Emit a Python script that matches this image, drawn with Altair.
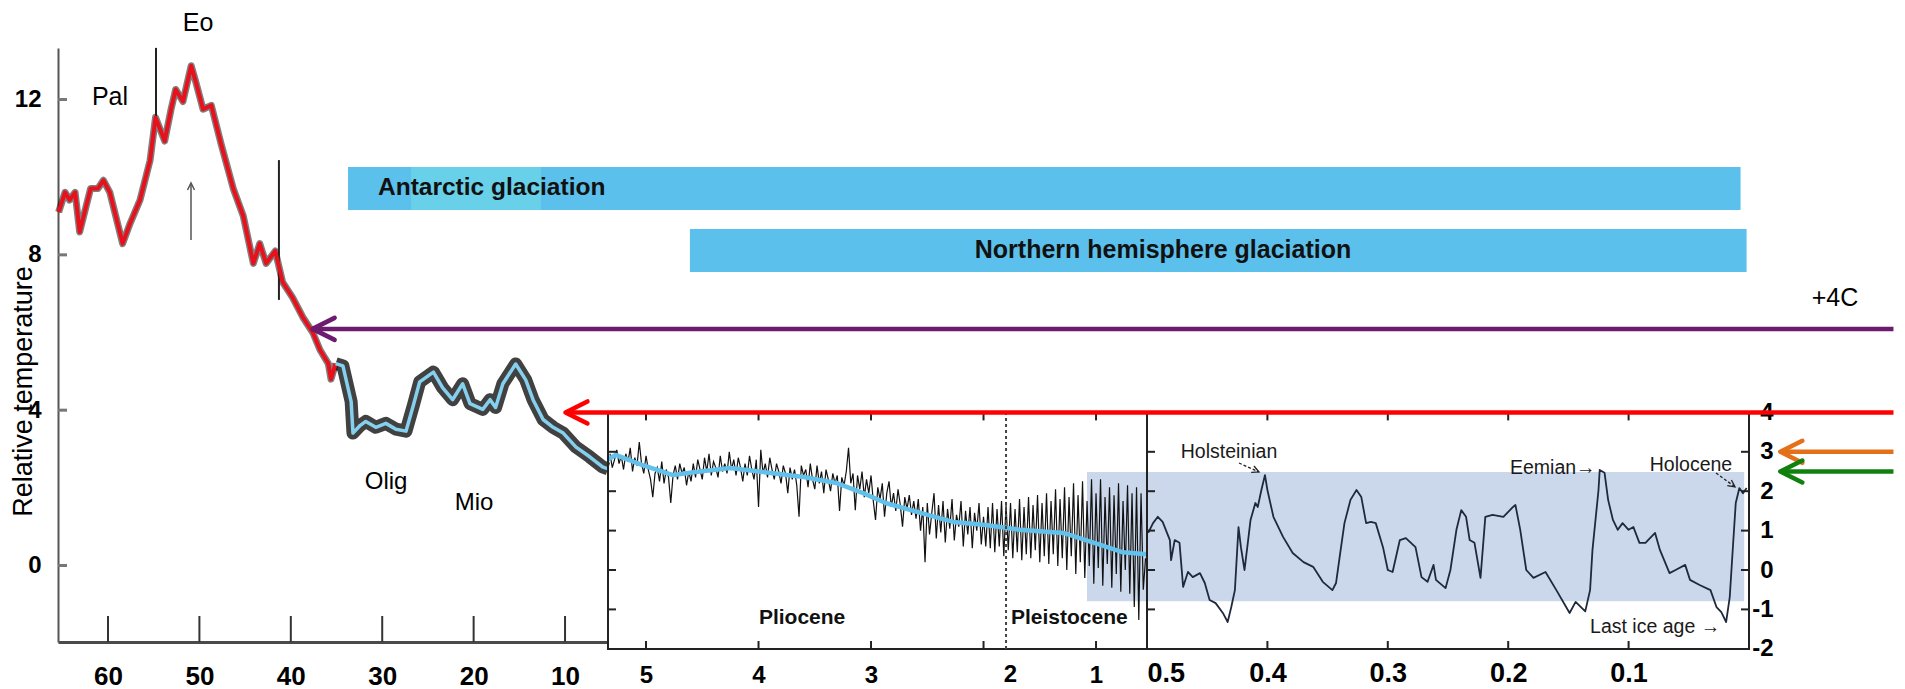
import altair as alt
import pandas as pd

TXT = "Liberation Sans, Arial, Helvetica, sans-serif"
NARROW = "Liberation Sans Narrow, Arial Narrow, Liberation Sans, Arial, sans-serif"

# ---------------- data: left panel (65-5 Ma) ----------------
LEFT_RED_AGE = [65.4, 64.7, 64.2, 63.6, 63.1, 61.9, 61.1, 60.5, 59.8, 58.4, 57.6, 56.5, 55.4, 54.8,
                53.8, 53.1, 52.6, 51.8, 50.9, 50.4, 49.6, 48.7, 47.6, 46.3, 45.2, 44.1, 43.4, 42.7,
                41.7, 40.9, 39.8, 38.7, 37.6, 36.8, 35.9, 35.6, 35.1]
LEFT_RED_TEMP = [9.10, 9.61, 9.41, 9.61, 8.59, 9.71, 9.71, 9.92, 9.61, 8.29, 8.80, 9.41, 10.43, 11.54,
                 10.93, 11.75, 12.26, 11.95, 12.87, 12.46, 11.75, 11.85, 10.83, 9.71, 9.00, 7.78, 8.29, 7.78,
                 8.10, 7.30, 6.90, 6.40, 6.00, 5.55, 5.20, 4.80, 5.20]
LEFT_BLUE_AGE = [35.1, 34.3, 33.4, 33.2, 32.4, 31.8, 30.7, 29.6, 28.5, 27.4, 26.6, 25.9, 24.4, 23.4,
                 22.3, 21.2, 20.4, 19.0, 18.2, 17.6, 16.8, 15.4, 14.3, 13.5, 12.4, 11.3, 10.2, 8.8,
                 7.3, 5.9, 5.3]
LEFT_BLUE_TEMP = [5.20, 5.14, 4.22, 3.41, 3.61, 3.71, 3.56, 3.66, 3.51, 3.46, 4.12, 4.73, 4.98, 4.58,
                  4.27, 4.68, 4.17, 4.02, 4.27, 4.07, 4.68, 5.19, 4.78, 4.27, 3.76, 3.56, 3.41, 3.05,
                  2.80, 2.54, 2.49]
SPIKE_AGE = [54.75, 41.3]
SPIKE_LO = [11.55, 6.84]
SPIKE_HI = [13.33, 10.44]

# ---------------- data: middle panel (5-0.5 Ma), read in five stretches ----------------
MID_AGE_A = [5.32, 5.30, 5.28, 5.26, 5.24, 5.22, 5.20, 5.18, 5.16, 5.14,
             5.12, 5.10, 5.08, 5.06, 5.04, 5.02, 5.00, 4.98, 4.96, 4.94,
             4.92, 4.90, 4.88, 4.86, 4.84, 4.82, 4.80, 4.78, 4.76, 4.74,
             4.72, 4.70, 4.68, 4.66, 4.64, 4.62, 4.60]
MID_TEMP_A = [2.95, 2.60, 2.80, 3.05, 2.70, 2.90, 2.55, 2.95, 2.75, 3.10,
              2.50, 2.85, 2.65, 3.25, 2.70, 2.45, 2.90, 2.55, 2.30, 1.85,
              2.45, 2.60, 2.25, 2.75, 2.20, 2.55, 2.35, 1.70, 2.40, 2.65,
              2.30, 2.70, 2.45, 2.60, 2.15, 2.50, 2.25]
MID_AGE_B = [4.58, 4.56, 4.54, 4.52, 4.50, 4.48, 4.46, 4.44, 4.42, 4.40,
             4.38, 4.36, 4.34, 4.32, 4.30, 4.28, 4.26, 4.24, 4.22, 4.20,
             4.18, 4.16, 4.14, 4.12, 4.10, 4.08, 4.06, 4.04, 4.02, 4.00,
             3.98, 3.96, 3.94, 3.92, 3.90, 3.88, 3.86, 3.84, 3.82, 3.80,
             3.78, 3.76, 3.74, 3.72, 3.70, 3.68, 3.66, 3.64, 3.62, 3.60]
MID_TEMP_B = [2.70, 2.35, 2.80, 2.55, 2.30, 2.85, 2.50, 2.95, 2.40, 2.75,
              2.60, 2.35, 2.90, 2.50, 2.70, 2.45, 3.00, 2.55, 2.80, 2.40,
              2.85, 2.60, 2.25, 2.70, 2.40, 2.90, 2.55, 2.30, 2.80, 1.60,
              3.05, 2.45, 2.70, 2.35, 2.85, 2.55, 2.30, 2.70, 2.50, 2.20,
              2.65, 2.45, 1.95, 2.60, 2.30, 2.55, 2.15, 1.35, 2.65, 2.40]
MID_AGE_C = [3.58, 3.56, 3.54, 3.52, 3.50, 3.48, 3.46, 3.44, 3.42, 3.40,
             3.38, 3.36, 3.34, 3.32, 3.30, 3.28, 3.26, 3.24, 3.22, 3.20,
             3.18, 3.16, 3.14, 3.12, 3.10, 3.08, 3.06, 3.04, 3.02, 3.00,
             2.98, 2.96, 2.94, 2.92, 2.90, 2.88, 2.86, 2.84, 2.82, 2.80,
             2.78, 2.76, 2.74, 2.72, 2.70, 2.68, 2.66, 2.64, 2.62, 2.60]
MID_TEMP_C = [2.55, 2.10, 2.70, 2.30, 2.05, 2.65, 2.20, 2.50, 1.95, 2.55,
              2.30, 2.00, 2.45, 2.20, 2.40, 1.50, 2.35, 2.15, 2.50, 3.10,
              2.20, 2.45, 1.52, 2.40, 2.05, 2.50, 1.85, 2.30, 1.95, 2.40,
              1.75, 1.27, 2.10, 1.80, 2.20, 1.35, 1.95, 2.25, 1.60, 1.95,
              1.50, 2.05, 1.65, 1.10, 1.85, 1.55, 1.90, 1.40, 1.75, 1.30]
MID_AGE_D = [2.58, 2.56, 2.54, 2.52, 2.50, 2.48, 2.46, 2.44, 2.42, 2.40,
             2.38, 2.36, 2.34, 2.32, 2.30, 2.28, 2.26, 2.24, 2.22, 2.20,
             2.18, 2.16, 2.14, 2.12, 2.10, 2.08, 2.06, 2.04, 2.02, 2.00]
MID_TEMP_D = [1.80, 1.00, 1.60, 0.20, 1.70, 0.90, 1.45, 1.95, 0.80, 1.65,
              0.95, 1.75, 0.70, 1.55, 1.05, 1.80, 0.75, 1.40, 1.10, 1.75,
              0.60, 1.50, 0.90, 1.60, 0.55, 1.45, 1.00, 1.70, 0.65, 1.35]
MID_AGE_E = [1.98, 1.96, 1.94, 1.92, 1.90, 1.88, 1.86, 1.84, 1.82, 1.80,
             1.78, 1.76, 1.74, 1.72, 1.70, 1.68, 1.66, 1.64, 1.62, 1.60,
             1.58, 1.56, 1.54, 1.52, 1.50, 1.48, 1.46, 1.44, 1.42, 1.40,
             1.38, 1.36, 1.34, 1.32, 1.30, 1.28, 1.26, 1.24, 1.22, 1.20,
             1.18, 1.16, 1.14, 1.12, 1.10, 1.08, 1.06, 1.04, 1.02, 1.00,
             0.98, 0.96, 0.94, 0.92, 0.90, 0.88, 0.86, 0.84, 0.82, 0.80,
             0.78, 0.76, 0.74, 0.72, 0.70, 0.68, 0.66, 0.64, 0.62, 0.60,
             0.58, 0.56]
MID_TEMP_E = [0.60, 1.60, 0.55, 1.70, 0.45, 1.55, 0.60, 1.75, 0.35, 1.65,
              0.50, 1.70, 0.30, 1.55, 0.45, 1.80, 0.25, 1.60, 0.40, 1.85,
              0.30, 1.65, 0.50, 1.90, 0.20, 1.70, 0.35, 1.95, 0.15, 1.75,
              0.40, 2.05, 0.10, 1.80, 0.30, 2.10, 0.00, 1.85, 0.35, 2.20,
              -0.10, 1.90, 0.20, 2.25, -0.20, 1.75, 0.10, 2.30, -0.35, 1.95,
              0.05, 2.30, -0.40, 1.85, 0.15, 2.10, -0.45, 1.90, -0.10, 2.20,
              -0.55, 1.75, 0.00, 2.15, -0.60, 1.95, -0.94, 2.10, -1.27, 1.95,
              -0.50, 0.30]
MID_AGE = MID_AGE_A + MID_AGE_B + MID_AGE_C + MID_AGE_D + MID_AGE_E
MID_TEMP = MID_TEMP_A + MID_TEMP_B + MID_TEMP_C + MID_TEMP_D + MID_TEMP_E
MID_SMOOTH_AGE = [5.34, 5.27, 5.03, 4.76, 4.56, 4.25, 3.96, 3.60, 3.31, 3.07, 2.87, 2.56, 2.27, 1.98, 1.68, 1.29, 1.18,
                  0.94, 0.76, 0.55]
MID_SMOOTH = [2.80, 2.92, 2.66, 2.41, 2.49, 2.59, 2.49, 2.36, 2.21, 1.95, 1.70, 1.45, 1.22, 1.14, 1.02, 0.94, 0.84,
              0.62, 0.45, 0.40]

# ---------------- data: right panel (0.5-0 Ma) ----------------
RIGHT_AGE = [0.499, 0.495, 0.491, 0.487, 0.481, 0.480, 0.477, 0.473, 0.470, 0.466,
             0.462, 0.456, 0.452, 0.448, 0.443, 0.437, 0.433, 0.430, 0.427, 0.424,
             0.422, 0.419, 0.416, 0.414, 0.410, 0.408, 0.405, 0.402, 0.400, 0.395,
             0.387, 0.379, 0.370, 0.362, 0.354, 0.346, 0.343, 0.340, 0.336, 0.331,
             0.326, 0.322, 0.318, 0.314, 0.310, 0.304, 0.300, 0.296, 0.290, 0.285,
             0.277, 0.272, 0.267, 0.262, 0.260, 0.252, 0.248, 0.243, 0.239, 0.235,
             0.232, 0.228, 0.223, 0.219, 0.213, 0.204, 0.196, 0.194, 0.190, 0.185,
             0.179, 0.169, 0.160, 0.149, 0.144, 0.136, 0.132, 0.130, 0.125, 0.124,
             0.120, 0.117, 0.113, 0.109, 0.105, 0.100, 0.096, 0.091, 0.086, 0.078,
             0.074, 0.066, 0.061, 0.053, 0.049, 0.041, 0.032, 0.027, 0.023, 0.019,
             0.016, 0.013, 0.011, 0.008, 0.005, 0.002]
RIGHT_TEMP = [0.94, 1.19, 1.35, 1.22, 0.76, 0.25, 0.76, 0.69, -0.43, -0.05,
              -0.18, -0.08, -0.33, -0.76, -0.84, -1.09, -1.32, -0.94, -0.51, 1.09,
              0.58, 0.00, 0.76, 1.27, 1.70, 1.60, 2.03, 2.41, 2.03, 1.35,
              0.84, 0.43, 0.20, 0.08, -0.30, -0.51, -0.33, 0.33, 1.19, 1.78,
              2.03, 1.85, 1.19, 1.22, 1.19, 0.58, 0.00, -0.05, 0.76, 0.81,
              0.58, -0.18, -0.30, 0.13, -0.25, -0.46, 0.00, 1.02, 1.52, 1.35,
              0.76, 0.69, -0.20, 1.35, 1.40, 1.35, 1.60, 1.65, 1.02, 0.00,
              -0.20, -0.05, -0.51, -1.09, -0.81, -1.05, -0.51, 0.51, 2.03, 2.54,
              2.47, 1.78, 1.27, 1.02, 1.19, 1.02, 1.09, 0.69, 0.69, 0.94,
              0.51, -0.08, 0.00, 0.13, -0.25, -0.38, -0.51, -0.94, -1.07, -1.32,
              -0.69, 0.76, 1.70, 2.08, 1.95, 2.08]

# ---------------- ticks ----------------
LEFT_X_TICKS = [60, 50, 40, 30, 20, 10]
LEFT_Y_TICKS = [0, 4, 8, 12]
MID_X_TICKS = [5, 4, 3, 2, 1]
MID_MOVED_LABEL = ("2", 1.76)   # the "2" label sits under the Plio/Pleistocene boundary
RIGHT_X_TICKS = [0.5, 0.4, 0.3, 0.2, 0.1]
RIGHT_Y_TICKS = [-2, -1, 0, 1, 2, 3, 4]
INNER_Y_TICKS = [3, 2, 1, 0, -1]
INNER_X_TICKS_R = [0.4, 0.3, 0.2, 0.1]

# ---------------- annotations ----------------
ANTARCTIC_START = 33.74      # Ma
NORTHERN_START = 4.61        # Ma
ANTARCTIC_END = 0.007
NORTHERN_END = 0.002
PATCH = (26.85, 12.63)       # lighter section of the Antarctic bar
ANT_BAND_L = (9.155, 10.26)  # bar extent in left-panel units
ANT_BAND_R = (9.137, 10.228)  # bar extent in right-panel units
NH_BAND_R = (7.563, 8.655)
SHADE_AGE = (1.08, 0.004)
SHADE_TEMP = (-0.79, 2.49)
PLEIST_BOUNDARY = 1.80

ARROW_LEVEL = [6.12, 4.0, 3.0, 2.5]
ARROW_TIP = [1.193, 0.983, -0.026, -0.026]
ARROW_END = -0.12
ARROW_COLOR = ["#6d1b6e", "#ff0000", "#e5701a", "#10800f"]

# ---------------- panel geometry ----------------
LX = [5.30, 65.47]
LY = [-1.970, 13.327]
MX = [0.547, 5.338]
RX = [0.0, 0.5]
RY = [-2.005, 13.249]
FRAME_TOP = 4.0
MID_LABEL_Y = -2.66
LEFT_W, MID_W, RIGHT_W = 550, 539, 602
LEFT_H, RM_H = 594, 601

CHEVRON_LEFT = "M 2 -1 L 0 0 L 2 1"
CHEVRON_UP = "M -1 2 L 0 0 L 1 2"

# ---------------- axes ----------------
lx_axis = alt.Axis(values=LEFT_X_TICKS, title=None, grid=False, ticks=False, tickSize=0,
                   domainColor="#4a4a4a", domainWidth=3, labelFont=NARROW, labelFontSize=26,
                   labelFontWeight="bold", labelColor="black", labelPadding=34, labelBaseline="middle")
ly_axis = alt.Axis(values=LEFT_Y_TICKS, title="Relative temperature", grid=False, ticks=False, tickSize=0,
                   domainColor="#555555", domainWidth=2, labelFont=TXT, labelFontSize=24,
                   labelFontWeight="bold", labelColor="black", labelPadding=17, labelBaseline="middle",
                   titleFont=TXT, titleFontSize=27, titleFontWeight="normal", titleColor="black",
                   titleAngle=270, titleAlign="center", titleBaseline="alphabetic", titleX=-27, titleY=343)
mx_axis = alt.Axis(values=MID_X_TICKS, title=None, grid=False, ticks=False, tickSize=0, domain=False,
                   labelFont=TXT, labelFontSize=24, labelFontWeight="bold", labelColor="black",
                   labelPadding=26, labelBaseline="middle",
                   labelExpr="datum.value == 2 ? '' : datum.label")
rx_axis = alt.Axis(values=RIGHT_X_TICKS, title=None, grid=False, ticks=False, tickSize=0, domain=False,
                   labelFont=NARROW, labelFontSize=27, labelFontWeight="bold", labelColor="black",
                   labelPadding=24, labelBaseline="middle", labelFlush=True)
ry_axis = alt.Axis(orient="right", values=RIGHT_Y_TICKS, title=None, grid=False, ticks=False, tickSize=0,
                   domain=False, labelFont=TXT, labelFontSize=24, labelFontWeight="bold", labelColor="black",
                   labelAlign="right", labelPadding=24, labelBaseline="middle", labelExpr="'' + datum.value")

# every layer of a panel carries the same axis definition so that they merge cleanly
PANELS = {
    "L": (LX, LY, lx_axis, ly_axis),
    "M": (MX, RY, mx_axis, None),
    "R": (RX, RY, rx_axis, ry_axis),
}


def ex(field, p):
    dom, _, ax, _ = PANELS[p]
    return alt.X(field, type="quantitative",
                 scale=alt.Scale(domain=dom, reverse=True, nice=False, zero=False), axis=ax)


def ey(field, p):
    _, dom, _, ax = PANELS[p]
    return alt.Y(field, type="quantitative",
                 scale=alt.Scale(domain=dom, nice=False, zero=False), axis=ax)


def rects(df, p, **kw):
    return alt.Chart(df).mark_rect(**kw).encode(
        x=ex("start", p), x2=alt.X2("end"), y=ey("lo", p), y2=alt.Y2("hi"))


def vticks(vals, base, length, p, color="#333", width=2):
    df = pd.DataFrame({"t": vals, "b": [base] * len(vals)})
    return alt.Chart(df).mark_rule(color=color, strokeWidth=width, y2Offset=length).encode(
        x=ex("t", p), y=ey("b", p), y2=alt.Y2("b"))


def hticks(vals, base, length, p, color="#333", width=2):
    df = pd.DataFrame({"t": vals, "b": [base] * len(vals)})
    return alt.Chart(df).mark_rule(color=color, strokeWidth=width, x2Offset=length).encode(
        y=ey("t", p), x=ex("b", p), x2=alt.X2("b"))


def texts(labels, xs, ys, p, **kw):
    df = pd.DataFrame({"label": labels, "x": xs, "y": ys})
    return alt.Chart(df).mark_text(**kw).encode(x=ex("x", p), y=ey("y", p), text="label:N")


def line(df, p, **kw):
    return alt.Chart(df).mark_line(**kw).encode(x=ex("age", p), y=ey("temp", p))


# ---------------- left panel ----------------
red_df = pd.DataFrame({"age": LEFT_RED_AGE, "temp": LEFT_RED_TEMP})
blue_df = pd.DataFrame({"age": LEFT_BLUE_AGE, "temp": LEFT_BLUE_TEMP})
spike_df = pd.DataFrame({"age": SPIKE_AGE, "lo": SPIKE_LO, "hi": SPIKE_HI})

l_bar = rects(pd.DataFrame({"start": [ANTARCTIC_START], "end": [LX[0]],
                            "lo": [ANT_BAND_L[0]], "hi": [ANT_BAND_L[1]]}), "L", color="#5bc0eb")
l_patch = rects(pd.DataFrame({"start": [PATCH[0]], "end": [PATCH[1]],
                              "lo": [ANT_BAND_L[0]], "hi": [ANT_BAND_L[1]]}), "L", color="#68d0e8")
l_fuzz_red = line(red_df, "L", color="black", strokeWidth=7, opacity=0.5, strokeJoin="round")
l_fuzz_blue = line(blue_df, "L", color="#111", strokeWidth=13, opacity=0.8, strokeJoin="round")
l_spikes = alt.Chart(spike_df).mark_rule(color="#222", strokeWidth=2).encode(
    x=ex("age", "L"), y=ey("lo", "L"), y2=alt.Y2("hi"))
l_red = line(red_df, "L", color="#e8101a", strokeWidth=4, strokeJoin="round")
l_blue = line(blue_df, "L", color="#86d0ef", strokeWidth=3.5, strokeJoin="round")
up_df = pd.DataFrame({"age": [50.92], "lo": [8.38], "hi": [9.85]})
l_up = alt.Chart(up_df).mark_rule(color="#555", strokeWidth=1.5).encode(
    x=ex("age", "L"), y=ey("lo", "L"), y2=alt.Y2("hi"))
l_up_head = alt.Chart(up_df).mark_point(shape=CHEVRON_UP, size=49, filled=False, strokeWidth=1.5,
                                        color="#555", opacity=1).encode(x=ex("age", "L"), y=ey("hi", "L"))
l_yt = hticks(LEFT_Y_TICKS, LX[1], 9, "L", color="#777", width=3)
l_xt = vticks(LEFT_X_TICKS, LY[0], -26, "L", color="#333", width=2)
l_txt = texts(["Eo", "Pal"], [50.15, 59.78], [13.98, 12.07], "L",
              font=TXT, fontSize=25, color="black", align="center", baseline="middle")
l_txt2 = texts(["Olig", "Mio"], [29.58, 19.96], [2.15, 1.61], "L",
               font=TXT, fontSize=24, color="black", align="center", baseline="middle")
l_ant = texts(["Antarctic glaciation"], [30.46], [9.72], "L",
              font=TXT, fontSize=24.5, fontWeight="bold", color="#111", align="left", baseline="middle")

left = alt.layer(l_bar, l_patch, l_fuzz_red, l_fuzz_blue, l_spikes, l_red, l_blue, l_up, l_up_head,
                 l_yt, l_xt, l_txt, l_txt2, l_ant).properties(width=LEFT_W, height=LEFT_H)

# ---------------- middle panel ----------------
mid_df = pd.DataFrame({"age": MID_AGE, "temp": MID_TEMP})
mids_df = pd.DataFrame({"age": MID_SMOOTH_AGE, "temp": MID_SMOOTH})
m_bars = rects(pd.DataFrame({"start": [MX[1], NORTHERN_START], "end": [MX[0], MX[0]],
                             "lo": [ANT_BAND_R[0], NH_BAND_R[0]], "hi": [ANT_BAND_R[1], NH_BAND_R[1]]}),
               "M", color="#5bc0eb")
m_shade = rects(pd.DataFrame({"start": [SHADE_AGE[0]], "end": [MX[0]],
                              "lo": [SHADE_TEMP[0]], "hi": [SHADE_TEMP[1]]}), "M", color="#cbd7ea")
m_noise = line(mid_df, "M", color="#111", strokeWidth=1.2)
m_smooth = line(mids_df, "M", color="#62c1ea", strokeWidth=4.5, strokeJoin="round")
m_frame = rects(pd.DataFrame({"start": [MX[1]], "end": [MX[0]], "lo": [RY[0]], "hi": [FRAME_TOP]}), "M",
                filled=False, stroke="#222", strokeWidth=2)
m_dash = alt.Chart(pd.DataFrame({"age": [PLEIST_BOUNDARY], "lo": [RY[0]], "hi": [FRAME_TOP]})).mark_rule(
    color="#444", strokeWidth=2, strokeDash=[3, 3]).encode(x=ex("age", "M"), y=ey("lo", "M"), y2=alt.Y2("hi"))
m_bt = vticks(MID_X_TICKS, RY[0], -8, "M", color="#222", width=2)
m_tt = vticks(MID_X_TICKS, FRAME_TOP, 8, "M", color="#222", width=2)
m_lt = hticks(INNER_Y_TICKS, MX[1], 8, "M", color="#222", width=2)
m_txt1 = texts(["Pliocene"], [3.613], [-1.218], "M", font=TXT, fontSize=21, fontWeight="bold",
               color="#111", align="center", baseline="middle")
m_txt2 = texts(["Pleistocene"], [1.756], [-1.218], "M", font=TXT, fontSize=21, fontWeight="bold",
               color="#111", align="left", baseline="middle")
m_lab2 = texts([MID_MOVED_LABEL[0]], [MID_MOVED_LABEL[1]], [MID_LABEL_Y], "M", font=TXT, fontSize=24,
               fontWeight="bold", color="black", align="center", baseline="middle")

mid = alt.layer(m_bars, m_shade, m_noise, m_smooth, m_frame, m_dash, m_bt, m_tt, m_lt,
                m_txt1, m_txt2, m_lab2).properties(width=MID_W, height=RM_H)

# ---------------- right panel ----------------
right_df = pd.DataFrame({"age": RIGHT_AGE, "temp": RIGHT_TEMP})
r_bars = rects(pd.DataFrame({"start": [RX[1], RX[1]], "end": [ANTARCTIC_END, NORTHERN_END],
                             "lo": [ANT_BAND_R[0], NH_BAND_R[0]], "hi": [ANT_BAND_R[1], NH_BAND_R[1]]}),
               "R", color="#5bc0eb")
r_nh = texts(["Northern hemisphere glaciation"], [0.4867], [8.12], "R", font=TXT, fontSize=25,
             fontWeight="bold", color="#111", align="center", baseline="middle")
r_shade = rects(pd.DataFrame({"start": [RX[1]], "end": [SHADE_AGE[1]],
                              "lo": [SHADE_TEMP[0]], "hi": [SHADE_TEMP[1]]}), "R", color="#cbd7ea")
r_line = line(right_df, "R", color="#1e2a3c", strokeWidth=1.8, strokeJoin="round")
r_frame = rects(pd.DataFrame({"start": [RX[1]], "end": [RX[0]], "lo": [RY[0]], "hi": [FRAME_TOP]}), "R",
                filled=False, stroke="#222", strokeWidth=2)
r_bt = vticks(INNER_X_TICKS_R, RY[0], -8, "R", color="#222", width=2)
r_tt = vticks(INNER_X_TICKS_R, FRAME_TOP, 8, "R", color="#222", width=2)
r_lt = hticks(INNER_Y_TICKS, RX[1], 8, "R", color="#222", width=2)
r_rt = hticks(INNER_Y_TICKS, RX[0], -8, "R", color="#222", width=2)
r_ann_c = texts(["Holsteinian", "Holocene"], [0.4319, 0.0482], [2.995, 2.665], "R",
                font=TXT, fontSize=19.5, color="#1a1a1a", align="center", baseline="middle")
r_ann_l = texts(["Eemian\u2192", "Last ice age \u2192"], [0.1985, 0.132], [2.59, -1.447], "R",
                font=TXT, fontSize=19.5, color="#1a1a1a", align="left", baseline="middle")
dash_df = pd.DataFrame({"x1": [0.4236, 0.0274], "y1": [2.716, 2.46], "x2": [0.4070, 0.0116],
                        "y2": [2.487, 2.11], "ang": [204, 216]})
r_dash = alt.Chart(dash_df).mark_rule(color="#222", strokeWidth=1.3, strokeDash=[3, 2]).encode(
    x=ex("x1", "R"), y=ey("y1", "R"), x2=alt.X2("x2"), y2=alt.Y2("y2"))
r_dash_head = alt.Chart(dash_df).mark_point(shape=CHEVRON_LEFT, size=49, filled=False, strokeWidth=1.3,
                                            color="#222", opacity=1).encode(
    x=ex("x2", "R"), y=ey("y2", "R"), angle=alt.Angle("ang:Q", scale=None))
arrow_df = pd.DataFrame({"level": ARROW_LEVEL, "tip": ARROW_TIP, "end": [ARROW_END] * 4, "color": ARROW_COLOR})
r_arrows = alt.Chart(arrow_df).mark_rule(strokeWidth=4.5).encode(
    x=ex("tip", "R"), x2=alt.X2("end"), y=ey("level", "R"), color=alt.Color("color:N", scale=None))
r_heads = alt.Chart(arrow_df).mark_point(shape=CHEVRON_LEFT, size=484, filled=False, strokeWidth=4.5,
                                         opacity=1, strokeCap="round", strokeJoin="round").encode(
    x=ex("tip", "R"), y=ey("level", "R"), color=alt.Color("color:N", scale=None))
r_plus = texts(["+4C"], [-0.0714], [6.90], "R", font=TXT, fontSize=25, color="black",
               align="center", baseline="middle")

right = alt.layer(r_bars, r_nh, r_shade, r_line, r_frame, r_bt, r_tt, r_lt, r_rt, r_ann_c, r_ann_l,
                  r_dash, r_dash_head, r_arrows, r_heads, r_plus).properties(width=RIGHT_W, height=RM_H)

chart = alt.hconcat(left, mid, right, spacing=0, bounds="flush").properties(
    padding={"left": 0, "top": 2, "right": 0, "bottom": 0}, background="white"
).configure_view(stroke="transparent")

chart.save("out.html", embed_options={"renderer": "svg", "actions": False})
